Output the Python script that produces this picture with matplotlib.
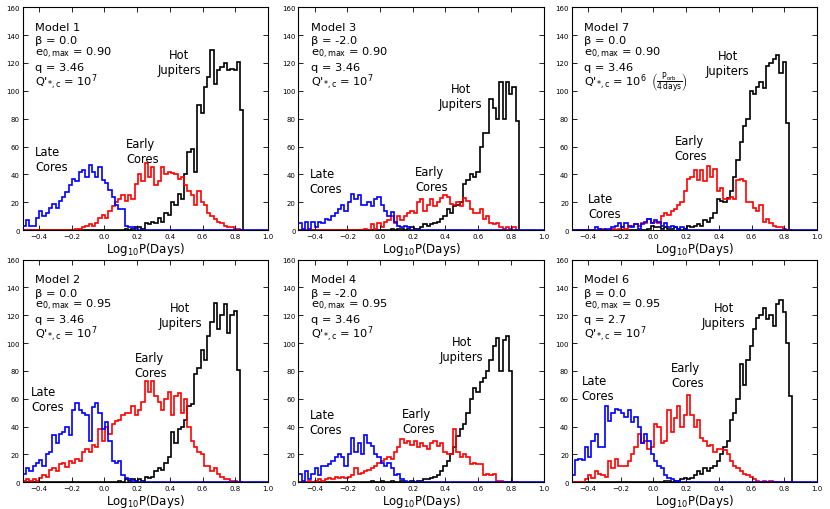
import numpy as np
import matplotlib
matplotlib.use("Agg")
import matplotlib.pyplot as plt

plt.rc('font', family='DejaVu Sans', size=8)
plt.rc('mathtext', fontset='dejavusans', default='regular')
plt.rc('axes', linewidth=0.8)

# histogram bins in log10 P (days)
N_BINS = 67
bin_edges = np.linspace(-0.5, 0.85, N_BINS + 1)
# the late-core histogram was binned over the full axis range, so its
# empty tail runs along the baseline out to 1.0
late_edges = np.append(bin_edges, 1.0)


def pad(start, counts, n=N_BINS):
    # place the non-zero run of counts into a full-length bin array
    full = np.zeros(n)
    counts = counts[:n - start]
    full[start:start + len(counts)] = counts
    return full


# ---- Model 1 ----
m1_late = pad(0, [3, 7, 3, 3, 9, 14, 10, 12, 16, 19, 16, 21, 24, 27, 32, 37, 35, 42, 43, 38,
                  47, 42, 38, 45, 36, 34, 29, 24, 18, 15, 15, 3, 2, 2, 1], N_BINS + 1)
m1_early = pad(16, [1, 1, 2, 3, 4, 3, 5, 9, 11, 9, 14, 17, 20, 22, 25, 21, 25, 22, 33, 40,
                    35, 48, 38, 45, 32, 35, 45, 40, 42, 41, 40, 37, 38, 32, 28, 25, 18, 28, 20, 18,
                    12, 10, 8, 6, 5, 3, 2, 2, 1, 1])
m1_hot = pad(31, [1, 0, 1, 2, 2, 1, 5, 4, 6, 5, 9, 6, 12, 11, 20, 18, 26, 22, 40, 56,
                  58, 42, 90, 84, 103, 110, 129, 105, 115, 117, 120, 115, 116, 115, 121, 86])

# ---- Model 3 ----
m3_late = pad(0, [5, 1, 6, 1, 6, 2, 6, 5, 8, 7, 10, 12, 15, 18, 14, 20, 26, 22, 25, 18,
                  18, 20, 17, 22, 24, 18, 14, 10, 13, 6, 3, 2, 3, 2], N_BINS + 1)
m3_early = pad(20, [1, 0, 4, 1, 5, 2, 6, 7, 10, 5, 10, 7, 10, 12, 14, 12, 20, 22, 14, 18,
                    22, 17, 20, 23, 25, 24, 19, 18, 20, 17, 23, 21, 15, 12, 12, 15, 8, 10, 5, 4,
                    5, 2, 1, 2, 1, 2])
m3_hot = pad(28, [1, 0, 1, 1, 0, 1, 2, 1, 1, 2, 4, 3, 4, 5, 6, 8, 10, 15, 12, 17,
                  18, 20, 33, 36, 40, 38, 42, 60, 70, 70, 94, 88, 80, 106, 80, 106, 98, 103, 78])

# ---- Model 7 ----
m7_late = pad(7, [2, 1, 0, 1, 1, 2, 3, 5, 2, 5, 3, 2, 4, 1, 4, 6, 8, 5, 7, 6,
                  3, 5, 2, 3, 2, 1, 2, 1], N_BINS + 1)
m7_early = pad(9, [1, 0, 0, 1, 0, 1, 2, 1, 2, 3, 4, 3, 5, 5, 8, 5, 6, 5, 10, 12,
                   11, 14, 15, 18, 20, 28, 37, 38, 43, 36, 43, 35, 46, 38, 44, 28, 30, 22, 22, 24,
                   22, 36, 37, 35, 20, 20, 16, 14, 18, 6, 8, 5, 3, 2, 2, 1])
m7_hot = pad(23, [1, 3, 2, 2, 1, 2, 1, 1, 2, 1, 0, 1, 3, 2, 3, 4, 3, 7, 6, 9,
                  12, 22, 21, 20, 23, 28, 38, 50, 63, 75, 80, 100, 98, 103, 106, 102, 118, 120, 123, 126,
                  113, 121, 77])

# ---- Model 2 ----
m2_late = pad(0, [6, 10, 8, 12, 14, 16, 12, 20, 22, 34, 28, 35, 36, 40, 34, 52, 57, 52, 50, 48,
                  30, 54, 57, 50, 38, 43, 30, 15, 14, 15, 5, 3, 2, 1, 1], N_BINS + 1)
m2_early = pad(0, [1, 2, 1, 2, 1, 3, 5, 4, 9, 10, 8, 13, 14, 11, 15, 14, 17, 15, 22, 24,
                   22, 27, 25, 38, 30, 40, 35, 42, 44, 45, 48, 50, 50, 55, 48, 52, 58, 73, 65, 73,
                   62, 58, 52, 60, 65, 48, 62, 64, 50, 60, 40, 30, 25, 22, 20, 12, 12, 8, 10, 6,
                   4, 2, 2, 1, 1])
m2_hot = pad(29, [1, 0, 2, 1, 2, 1, 2, 1, 4, 3, 4, 8, 10, 9, 14, 18, 36, 28, 38, 40,
                  45, 55, 56, 78, 82, 95, 88, 105, 115, 129, 110, 120, 128, 107, 120, 123, 81])

# ---- Model 4 ----
m4_late = pad(0, [6, 1, 8, 2, 6, 10, 5, 12, 12, 13, 15, 18, 20, 18, 12, 20, 32, 22, 28, 20,
                  34, 28, 26, 20, 18, 14, 12, 14, 10, 5, 6, 2, 1], N_BINS + 1)
m4_early = pad(3, [1, 0, 1, 2, 1, 2, 3, 2, 4, 3, 4, 3, 4, 5, 10, 6, 7, 8, 9, 10,
                   12, 14, 15, 17, 18, 17, 22, 25, 31, 28, 30, 27, 30, 25, 28, 26, 24, 28, 30, 26,
                   28, 22, 20, 20, 38, 22, 18, 20, 18, 13, 14, 13, 13, 5, 6, 5, 6, 1, 1])
m4_hot = pad(22, [1, 0, 0, 1, 0, 0, 1, 0, 0, 1, 0, 0, 1, 0, 1, 1, 2, 2, 3, 4,
                  5, 8, 12, 15, 20, 25, 33, 38, 42, 50, 60, 68, 65, 72, 75, 80, 88, 98, 104, 80,
                  102, 105, 80])

# ---- Model 6 ----
m6_late = pad(0, [5, 16, 17, 16, 25, 18, 30, 35, 25, 25, 55, 44, 50, 53, 52, 50, 47, 52, 43, 47,
                  40, 28, 35, 30, 20, 15, 12, 10, 5, 3, 2, 1, 1], N_BINS + 1)
m6_early = pad(4, [2, 5, 3, 8, 6, 5, 4, 15, 10, 17, 12, 12, 12, 15, 20, 25, 35, 28, 30, 24,
                   25, 42, 40, 28, 30, 52, 36, 46, 55, 40, 48, 63, 48, 40, 45, 32, 30, 26, 27, 22,
                   24, 24, 23, 20, 15, 12, 10, 8, 6, 5, 4, 2, 1, 0, 1, 0, 1])
m6_hot = pad(28, [1, 1, 0, 1, 1, 2, 3, 2, 3, 5, 8, 6, 10, 8, 10, 12, 15, 20, 25, 30,
                  45, 50, 60, 85, 70, 88, 98, 110, 118, 120, 125, 117, 120, 112, 128, 131, 122, 100, 62])

# ---- panel text ----
models = ['Model 1', 'Model 3', 'Model 7', 'Model 2', 'Model 4', 'Model 6']
betas = ['0.0', '-2.0', '0.0', '0.0', '-2.0', '0.0']
ecc_max = ['0.90', '0.90', '0.90', '0.95', '0.95', '0.95']
q_vals = ['3.46', '3.46', '3.46', '3.46', '3.46', '2.7']
q_tide = ['7', '7', '6', '7', '7', '7']
# only Model 7 has the period-dependent tidal factor
period_factor = [None, None, r'$\left(\dfrac{P_{orb}}{4\,days}\right)$', None, None, None]

late_series = [m1_late, m3_late, m7_late, m2_late, m4_late, m6_late]
early_series = [m1_early, m3_early, m7_early, m2_early, m4_early, m6_early]
hot_series = [m1_hot, m3_hot, m7_hot, m2_hot, m4_hot, m6_hot]

# label anchor positions (data coords): late (left, middle), early (left, middle), hot (center, middle)
late_pos = [(-0.425, 51), (-0.43, 35), (-0.40, 17.5), (-0.447, 60), (-0.43, 43), (-0.44, 68)]
early_pos = [(0.133, 57), (0.214, 37), (0.13, 59), (0.184, 84), (0.135, 44), (0.107, 77)]
hot_pos = [(0.457, 120.5), (0.494, 96), (0.455, 120), (0.463, 120), (0.50, 96), (0.43, 120)]

# axes rectangles in figure fraction (left, bottom, width, height)
col_left = [0.0273, 0.3594, 0.6888]
row_bottom = [0.547, 0.0524]
ax_w, ax_h = 0.2955, 0.4367

fig = plt.figure(figsize=(8.3, 5.1), dpi=100)

for k in range(6):
    r, c = divmod(k, 3)
    ax = fig.add_axes([col_left[c], row_bottom[r], ax_w, ax_h])

    ax.stairs(hot_series[k], bin_edges, color='k', lw=1.2)
    ax.stairs(early_series[k], bin_edges, color='r', lw=1.2)
    ax.stairs(late_series[k], late_edges, color='b', lw=1.2)

    ax.set_xlim(-0.5, 1.0)
    ax.set_ylim(0, 160)
    ax.set_xticks([-0.4, -0.2, 0.0, 0.2, 0.4, 0.6, 0.8, 1.0])
    ax.set_yticks(range(0, 161, 20))
    ax.tick_params(direction='in', top=True, right=True, labelsize=5,
                   length=3.5, width=0.6, pad=2)
    ax.set_xlabel(r'Log$_{10}$P(Days)', fontsize=8.5, labelpad=0.5)

    lines = [models[k],
             'β = ' + betas[k],
             r'e$_{0,max}$ = ' + ecc_max[k],
             'q = ' + q_vals[k],
             r"Q$'_{*,c}$ = 10$^{" + q_tide[k] + "}$"]
    for txt, yy in zip(lines, [0.90, 0.838, 0.785, 0.72, 0.653]):
        t = ax.text(0.05, yy, txt, transform=ax.transAxes, fontsize=8.2,
                    va='baseline', ha='left')
    if period_factor[k]:
        ax.annotate(period_factor[k], xy=(1, 0.5), xycoords=t,
                    xytext=(3, 0), textcoords='offset points',
                    fontsize=5.5, ha='left', va='center')

    ax.text(*late_pos[k], 'Late\nCores', fontsize=8.3, ha='left', va='center')
    ax.text(*early_pos[k], 'Early\nCores', fontsize=8.3, ha='left', va='center')
    ax.text(*hot_pos[k], 'Hot\nJupiters', fontsize=8.3, ha='center', va='center',
            multialignment='center')

fig.savefig('out.png', dpi=100)
